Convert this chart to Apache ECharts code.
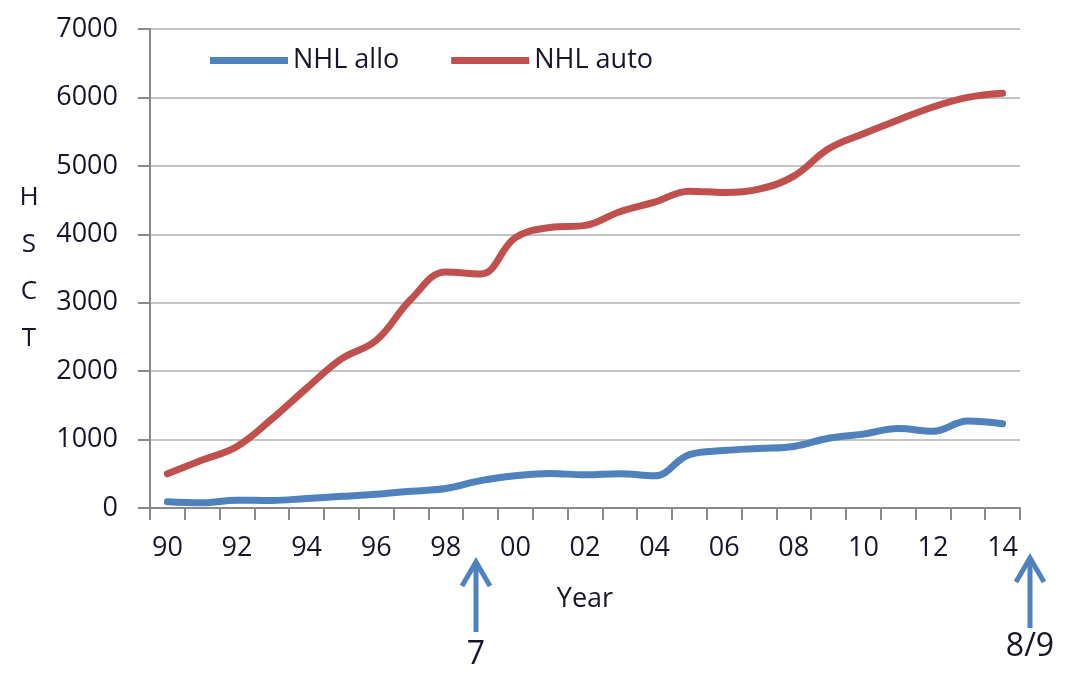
<!DOCTYPE html>
<html>
<head>
<meta charset="utf-8">
<style>
  html, body { margin: 0; padding: 0; background: #fff; }
  #chart { width: 1079px; height: 675px; }
</style>
<script src="https://cdn.jsdelivr.net/npm/echarts@6/dist/echarts.min.js"></script>
</head>
<body>
<div id="chart"></div>
<script>
// years 1990 - 2014, shown as two digits
const years = ['90', '91', '92', '93', '94', '95', '96', '97', '98', '99', '00', '01', '02',
  '03', '04', '05', '06', '07', '08', '09', '10', '11', '12', '13', '14']
const nhlAllo = [90, 75, 115, 110, 140, 170, 200, 245, 285, 400, 470, 505, 485,
  500, 470, 780, 840, 870, 900, 1020, 1080, 1160, 1120, 1270, 1230]
const nhlAuto = [500, 700, 900, 1300, 1750, 2180, 2450, 3050, 3450, 3420, 3950, 4100, 4130,
  4330, 4470, 4630, 4610, 4660, 4850, 5250, 5470, 5670, 5860, 6000, 6060]
const yMin = 0
const yMax = 7000
const yStep = 1000

const FONT = '"Open Sans", sans-serif'
const TEXT = '#16162a'
const AXIS = '#8a8a8a'
const BLUE = '#4F81BD'
const RED = '#C0504D'

function arrow (x, top, bottom, label, labelY) {
  return {
    type: 'group',
    children: [
      {
        type: 'line',
        shape: { x1: x, y1: top + 2, x2: x, y2: bottom },
        style: { stroke: BLUE, lineWidth: 5 }
      },
      {
        type: 'polyline',
        shape: { points: [[x - 14, top + 24], [x, top], [x + 14, top + 24]] },
        style: { stroke: BLUE, lineWidth: 5, fill: null, lineJoin: 'miter' }
      },
      {
        type: 'text',
        style: {
          text: label,
          x: x,
          y: labelY,
          align: 'center',
          verticalAlign: 'middle',
          font: '32px ' + FONT,
          fill: TEXT
        }
      }
    ]
  }
}

const chart = echarts.init(document.getElementById('chart'))
chart.setOption({
  animation: false,
  textStyle: { fontFamily: FONT },
  legend: {
    left: 205,
    top: 42,
    icon: 'rect',
    itemWidth: 78,
    itemHeight: 7,
    itemGap: 52,
    textStyle: { fontSize: 27, color: TEXT },
    data: ['NHL allo', 'NHL auto']
  },
  grid: {
    left: 150,
    right: 59,
    top: 29,
    bottom: 167
  },
  xAxis: {
    type: 'category',
    data: years,
    boundaryGap: true,
    name: 'Year',
    nameLocation: 'middle',
    nameGap: 78,
    nameTextStyle: { fontSize: 27, color: TEXT },
    // x轴线
    axisLine: { lineStyle: { color: AXIS, width: 2 } },
    axisTick: { show: true, interval: 0, length: 12, lineStyle: { color: AXIS, width: 2 } },
    axisLabel: { interval: 1, fontSize: 27, color: TEXT, margin: 27 }
  },
  yAxis: {
    type: 'value',
    min: yMin,
    max: yMax,
    interval: yStep,
    name: 'H\nS\nC\nT',
    nameLocation: 'middle',
    nameRotate: 0,
    nameGap: 121,
    nameTextStyle: { fontSize: 26, lineHeight: 47, color: TEXT, align: 'center', verticalAlign: 'middle' },
    axisLine: { show: true, lineStyle: { color: AXIS, width: 2 } },
    axisTick: { show: true, length: 12, lineStyle: { color: AXIS, width: 2 } },
    splitLine: { lineStyle: { color: '#c4c4c4', width: 2 } },
    axisLabel: {
      fontSize: 27,
      color: TEXT,
      margin: 32,
      formatter: function (value) {
        return String(value)
      }
    }
  },
  series: [
    {
      name: 'NHL allo',
      type: 'line',
      smooth: 0.4,
      symbol: 'none',
      data: nhlAllo,
      itemStyle: { color: BLUE },
      lineStyle: { color: BLUE, width: 7, cap: 'round' }
    },
    {
      name: 'NHL auto',
      type: 'line',
      smooth: 0.4,
      symbol: 'none',
      data: nhlAuto,
      itemStyle: { color: RED },
      lineStyle: { color: RED, width: 7, cap: 'round' }
    }
  ],
  graphic: [
    arrow(476, 562, 632, '7', 655),
    arrow(1030, 558, 628, '8/9', 647)
  ]
})
</script>
</body>
</html>
